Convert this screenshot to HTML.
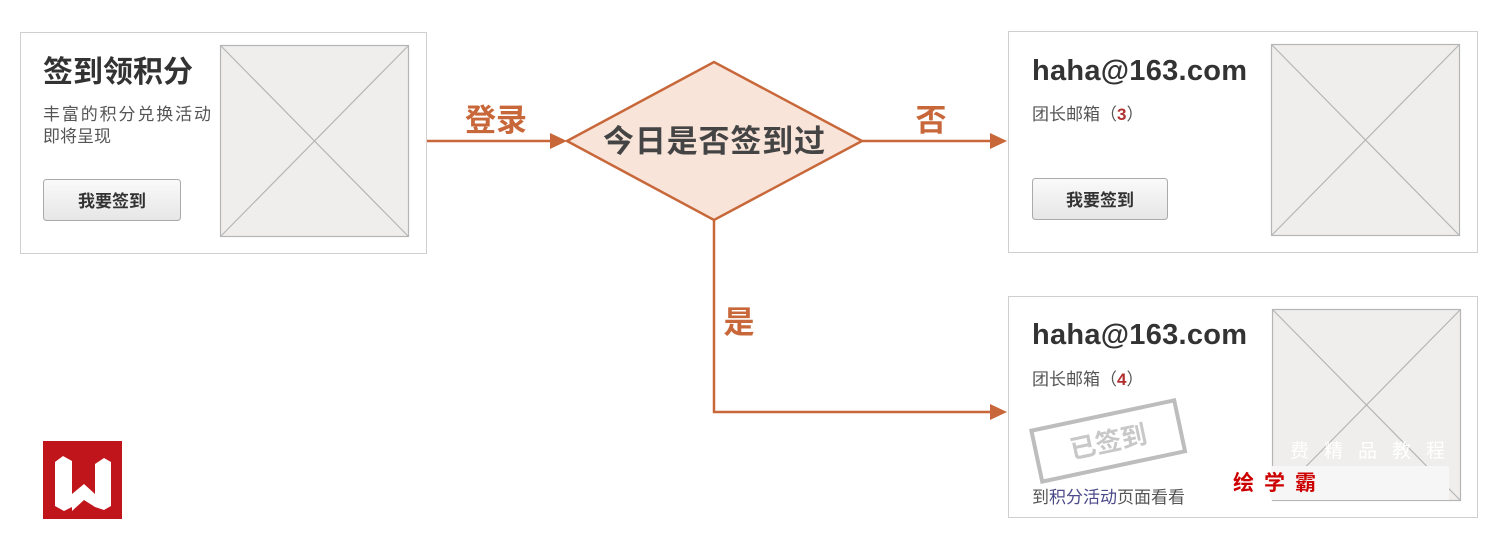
<!DOCTYPE html>
<html><head><meta charset="utf-8"><style>
html,body{margin:0;padding:0;background:#fff;width:1492px;height:549px;overflow:hidden}
text{font-family:"Liberation Sans","Noto Sans CJK SC",sans-serif}
</style></head><body>
<svg width="1492" height="549" viewBox="0 0 1492 549" xmlns="http://www.w3.org/2000/svg">
<defs>
<linearGradient id="btn" x1="0" y1="0" x2="0" y2="1"><stop offset="0" stop-color="#fafafa"/><stop offset="1" stop-color="#e6e6e6"/></linearGradient>
</defs>
<!-- left card -->
<rect x="20.5" y="32.5" width="406" height="221" fill="#fff" stroke="#cfcfcf"/>
<text x="43" y="82" font-size="30" font-weight="bold" fill="#333">签到领积分</text>
<text x="43" y="120" font-size="17" fill="#555" textLength="168">丰富的积分兑换活动</text>
<text x="43" y="142" font-size="17" fill="#555">即将呈现</text>
<rect x="43.5" y="179.5" width="137" height="41" rx="3" fill="url(#btn)" stroke="#aaa"/>
<text x="112" y="207" font-size="17" font-weight="bold" fill="#333" text-anchor="middle">我要签到</text>
<g stroke="#b5b5b5" stroke-width="1.2"><rect x="220.5" y="45.5" width="188" height="191" fill="#efeeed"/><line x1="221" y1="46" x2="408" y2="236"/><line x1="408" y1="46" x2="221" y2="236"/></g>
<!-- arrows -->
<g stroke="#c8683a" stroke-width="2.5" fill="none">
<line x1="427" y1="141" x2="552" y2="141"/>
<line x1="862" y1="141" x2="992" y2="141"/>
<polyline points="714,220 714,412 992,412"/>
</g>
<g fill="#c8683a">
<polygon points="550,133 567,141 550,149"/>
<polygon points="990,133 1007,141 990,149"/>
<polygon points="990,404 1007,412 990,420"/>
</g>
<polygon points="567,141 714,62 862,141 714,220" fill="#f9e4da" stroke="#c8683a" stroke-width="2.5"/>
<text x="714" y="152" font-size="31" font-weight="bold" fill="#444" text-anchor="middle" textLength="222">今日是否签到过</text>
<text x="496" y="131" font-size="31" font-weight="bold" fill="#c8683a" text-anchor="middle">登录</text>
<text x="931" y="131" font-size="31" font-weight="bold" fill="#c8683a" text-anchor="middle">否</text>
<text x="739" y="333" font-size="31" font-weight="bold" fill="#c8683a" text-anchor="middle">是</text>
<!-- right top card -->
<rect x="1008.5" y="31.5" width="469" height="221" fill="#fff" stroke="#cfcfcf"/>
<text x="1032" y="80" font-size="29" font-weight="bold" fill="#333" textLength="215">haha@163.com</text>
<text x="1032" y="120" font-size="17" fill="#555">团长邮箱（<tspan fill="#b03030" font-weight="bold">3</tspan>）</text>
<rect x="1032.5" y="178.5" width="135" height="41" rx="3" fill="url(#btn)" stroke="#aaa"/>
<text x="1100" y="206" font-size="17" font-weight="bold" fill="#333" text-anchor="middle">我要签到</text>
<g stroke="#b5b5b5" stroke-width="1.2"><rect x="1271.5" y="44.5" width="188" height="191" fill="#efeeed"/><line x1="1272" y1="45" x2="1459" y2="235"/><line x1="1459" y1="45" x2="1272" y2="235"/></g>
<!-- right bottom card -->
<rect x="1008.5" y="296.5" width="469" height="221" fill="#fff" stroke="#cfcfcf"/>
<text x="1032" y="344" font-size="29" font-weight="bold" fill="#333" textLength="215">haha@163.com</text>
<text x="1032" y="385" font-size="17" fill="#555">团长邮箱（<tspan fill="#b03030" font-weight="bold">4</tspan>）</text>
<g stroke="#b5b5b5" stroke-width="1.2"><rect x="1272.5" y="309.5" width="188" height="191" fill="#efeeed"/><line x1="1273" y1="310" x2="1460" y2="500"/><line x1="1460" y1="310" x2="1273" y2="500"/></g>
<g transform="rotate(-12 1108 440)">
<rect x="1035" y="415" width="146" height="52" fill="none" stroke="#bdbdbd" stroke-width="4"/>
<text x="1108" y="451" font-size="26" font-weight="bold" fill="#c8c8c8" text-anchor="middle">已签到</text>
</g>
<text x="1032" y="503" font-size="17" fill="#555">到<tspan fill="#4a4a8a">积分活动</tspan>页面看看</text>
<!-- watermark -->
<rect x="1272" y="466" width="177" height="34" fill="#f6f6f6"/>
<text x="1290" y="457" font-size="19" fill="#fff" letter-spacing="15">费精品教程</text>
<text x="1233" y="490" font-size="21" font-weight="bold" fill="#c00" letter-spacing="10">绘学霸</text>
<!-- logo -->
<rect x="43" y="441" width="79" height="78" fill="#c0151b"/>
<g fill="#fff">
<polygon points="55,462 63,456 72,461 72,507 64,511 55,506"/>
<polygon points="72,494 84,484 95,494 95,507 84,500 72,511"/>
<polygon points="95,464 104,458 111,462 111,506 104,510 95,507"/>
</g>
</svg>
</body></html>
